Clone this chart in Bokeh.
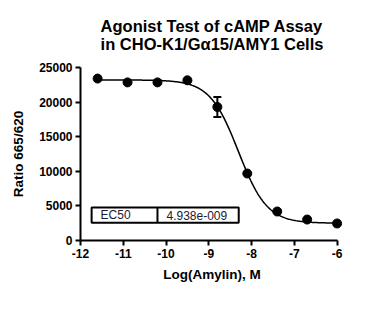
import numpy as np
from bokeh.plotting import figure
from bokeh.models import (Range1d, FixedTicker, Title, Whisker, TeeHead,
                          ColumnDataSource)
from bokeh.core.properties import value
from bokeh.embed import file_html
from bokeh.resources import INLINE

# ---- data ----
log_conc = [-11.6, -10.9, -10.2, -9.5, -8.8, -8.1, -7.4, -6.7, -6.0]
ratio = [23400, 22850, 22850, 23150, 19300, 9680, 4190, 3030, 2460]
ratio_err = [0, 0, 0, 0, 1450, 0, 0, 0, 0]

# 4-parameter fit shown in the figure
fit_top = 23200
fit_bottom = 2500
ec50 = 4.938e-9
ec50_label = "4.938e-009"
hill = 1.3

title_lines = ["Agonist Test of cAMP Assay", "in CHO-K1/G\u03b115/AMY1 Cells"]
x_ticks = [-12, -11, -10, -9, -8, -7, -6]
x_tick_labels = ["-12", "-11", "-10", "-9", "-8", "-7", "-6"]
y_ticks = [0, 5000, 10000, 15000, 20000, 25000]

FONT = "Liberation Sans"

p = figure(width=379, height=309, output_backend="svg", toolbar_location=None,
           x_range=Range1d(-12, -5.85), y_range=Range1d(0, 25000),
           min_border_left=80, min_border_right=36, min_border_top=67,
           min_border_bottom=69, title=None)
p.outline_line_color = None
p.grid.visible = False
p.background_fill_color = "white"
p.border_fill_color = "white"

ttl = Title(text="\n".join(title_lines), align="center",
            text_font=FONT, text_font_size="16.5px", text_font_style="bold",
            text_color="black", text_line_height=1.0, standoff=29, offset=0)
p.add_layout(ttl, "above")

for ax in (p.xaxis[0], p.yaxis[0]):
    ax.axis_line_width = 2
    ax.axis_line_color = "black"
    ax.major_tick_line_width = 2
    ax.major_tick_line_color = "black"
    ax.major_tick_out = 5
    ax.major_tick_in = 0
    ax.minor_tick_line_color = None
    ax.major_label_text_font = FONT
    ax.major_label_text_font_size = "12px"
    ax.major_label_text_font_style = "bold"
    ax.major_label_text_color = "black"
    ax.axis_label_text_font = FONT
    ax.axis_label_text_font_size = "13.5px"
    ax.axis_label_text_font_style = "bold"
    ax.axis_label_text_color = "black"

p.xaxis.ticker = FixedTicker(ticks=x_ticks)
p.xaxis.major_label_overrides = {t: l for t, l in zip(x_ticks, x_tick_labels)}
p.yaxis.ticker = FixedTicker(ticks=y_ticks)
p.xaxis.bounds = (-12, -6)
p.yaxis.bounds = (0, 25000)
p.xaxis.axis_label = "Log(Amylin), M"
p.yaxis.axis_label = "Ratio 665/620"
p.xaxis.major_label_standoff = 3
p.yaxis.major_label_standoff = 3
p.xaxis.axis_label_standoff = 6
p.yaxis.axis_label_standoff = 10

# fitted curve
xc = np.linspace(-11.6, -6.0, 300)
yc = fit_bottom + (fit_top - fit_bottom) / (1 + 10 ** ((xc - np.log10(ec50)) * hill))
p.line(xc, yc, line_color="black", line_width=1.5)

# error bars
src = ColumnDataSource(dict(
    x=[x for x, e in zip(log_conc, ratio_err) if e > 0],
    lo=[y - e for y, e in zip(ratio, ratio_err) if e > 0],
    hi=[y + e for y, e in zip(ratio, ratio_err) if e > 0]))
wk = Whisker(source=src, base="x", lower="lo", upper="hi", dimension="height",
             line_color="black", line_width=2,
             upper_head=TeeHead(size=8, line_width=2, line_color="black"),
             lower_head=TeeHead(size=8, line_width=2, line_color="black"))
p.add_layout(wk)

# points
p.scatter(log_conc, ratio, size=9, fill_color="black", line_color="black")

# EC50 table
tb_left, tb_mid, tb_right = -11.74, -10.20, -8.30
tb_bottom, tb_top = 2560, 4770
p.quad(left=[tb_left], right=[tb_right], bottom=[tb_bottom], top=[tb_top],
       fill_color="white", line_color="black", line_width=2)
p.segment(x0=[tb_mid], x1=[tb_mid], y0=[tb_bottom], y1=[tb_top],
          line_color="black", line_width=2)
ymid = (tb_bottom + tb_top) / 2
p.text(x=[-11.53], y=[ymid], text=["EC50"], text_font=value(FONT),
       text_font_size="12px", text_baseline="middle", text_align="left",
       text_color="#1a1a33")
p.text(x=[-9.99], y=[ymid], text=[ec50_label],
       text_font=value(FONT), text_font_size="12px", text_baseline="middle",
       text_align="left", text_color="#1a1a33")

open("out.html", "w").write(file_html(p, INLINE))
